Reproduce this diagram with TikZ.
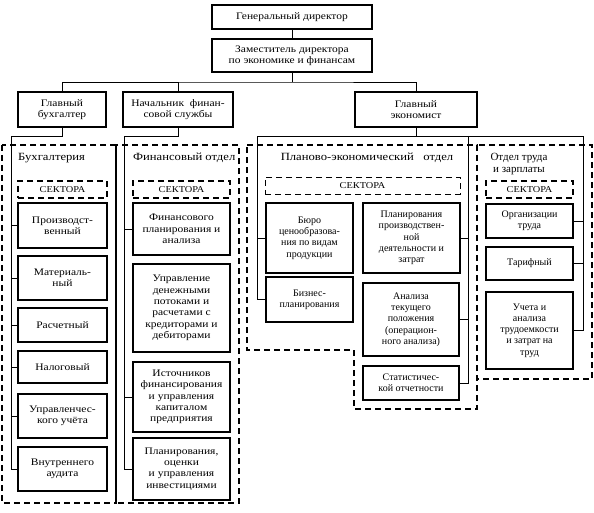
\documentclass[tikz,border=0pt]{standalone}
\usepackage{fontspec}
\setmainfont{Liberation Serif}
\newfontfamily\wideserif{Liberation Serif}[FakeStretch=1.15]
\begin{document}
\begin{tikzpicture}[x=1pt,y=-1pt,
    box/.style={draw,line width=1.5pt,align=center,inner sep=1pt,font=\fontsize{10}{11.3}\selectfont},
    wide/.style={font=\wideserif\fontsize{10}{11.3}\selectfont},
    dept/.style={draw,line width=1.5pt,dash pattern=on 6pt off 4pt},
    sect/.style={dept,align=center,inner sep=0pt,font=\wideserif\fontsize{9}{10}\selectfont},
    ttl/.style={align=center,inner sep=0pt,font=\fontsize{11}{12.5}\selectfont}]
  \useasboundingbox (0,0) rectangle (594,513);
  \node[box,wide,minimum width=160,minimum height=24] (gen) at (292,17) {Генеральный директор};
  \node[box,wide,minimum width=160,minimum height=33] (zam) at (292,55.5) {Заместитель директора\\по экономике и финансам};
  \node[box,wide,minimum width=88,minimum height=35] (bukh) at (62,109.5) {Главный\\бухгалтер};
  \node[box,wide,minimum width=110,minimum height=35] (nach) at (178,109.5) {Начальник~~финан-\\совой службы};
  \node[box,wide,minimum width=122,minimum height=35] (econ) at (416,109.5) {Главный\\экономист};
  \draw[dept] (2,145) rectangle (116,503);
  \draw[dept] (116,145) rectangle (239,503);
  \draw[dept] (247,145) -- (477,145) -- (477,409) -- (354,409) -- (354,350) -- (247,350) -- cycle;
  \draw[dept] (477,145) rectangle (592,379);
  \node[ttl,font=\wideserif\fontsize{11}{12.5}\selectfont,anchor=west] (bkTitle) at (18,158) {Бухгалтерия};
  \node[ttl,font=\wideserif\fontsize{11}{12.5}\selectfont,anchor=west] (fnTitle) at (133,158) {Финансовый отдел};
  \node[ttl,font=\wideserif\fontsize{11}{12.5}\selectfont] (peTitle) at (367,158) {Планово-экономический~~~отдел};
  \node[ttl] (otTitle) at (519,164) {Отдел труда\\и зарплаты};
  \node[sect,minimum width=89,minimum height=17] (bkSect) at (62.5,189.5) {СЕКТОРА};
  \node[sect,minimum width=97,minimum height=17] (fnSect) at (181.5,189.5) {СЕКТОРА};
  \node[sect,line width=0.8pt,minimum width=195,minimum height=17] (peSect) at (362.5,185.5) {СЕКТОРА};
  \node[sect,minimum width=87,minimum height=17] (otSect) at (529.5,189.5) {СЕКТОРА};
  \node[box,wide,minimum width=89,minimum height=45] (prod) at (62.5,225.5) {Производст-\\венный};
  \node[box,wide,minimum width=89,minimum height=44] (mat) at (62.5,278) {Материаль-\\ный};
  \node[box,wide,minimum width=89,minimum height=34] (rasch) at (62.5,325) {Расчетный};
  \node[box,wide,minimum width=89,minimum height=32] (nalog) at (62.5,367) {Налоговый};
  \node[box,wide,minimum width=89,minimum height=44] (upr) at (62.5,416) {Управленчес-\\кого учёта};
  \node[box,wide,minimum width=89,minimum height=44] (audit) at (62.5,469) {Внутреннего\\аудита};
  \node[box,wide,minimum width=97,minimum height=52] (finplan) at (181.5,229) {Финансового\\планирования и\\анализа};
  \node[box,wide,minimum width=97,minimum height=88] (dengi) at (181.5,308) {Управление\\денежными\\потоками и\\расчетами с\\кредиторами и\\дебиторами};
  \node[box,wide,minimum width=97,minimum height=70] (istoch) at (181.5,397) {Источников\\финансирования\\и управления\\капиталом\\предприятия};
  \node[box,wide,minimum width=97,minimum height=62] (invest) at (181.5,469) {Планирования,\\оценки\\и управления\\инвестициями};
  \node[box,minimum width=87,minimum height=70] (byuro) at (309.5,238) {Бюро\\ценообразова-\\ния по видам\\продукции};
  \node[box,minimum width=97,minimum height=70] (plpr) at (411.5,238) {Планирования\\производствен-\\ной\\деятельности и\\затрат};
  \node[box,minimum width=87,minimum height=45] (biz) at (309.5,299.5) {Бизнес-\\планирования};
  \node[box,minimum width=96,minimum height=73] (analiz) at (411,319.5) {Анализа\\текущего\\положения\\(операцион-\\ного анализа)};
  \node[box,minimum width=96,minimum height=34] (stat) at (411,383) {Статистичес-\\кой отчетности};
  \node[box,minimum width=87,minimum height=34] (org) at (529.5,221) {Организации\\труда};
  \node[box,minimum width=87,minimum height=33] (tarif) at (529.5,263.5) {Тарифный};
  \node[box,minimum width=87,minimum height=77] (uchet) at (529.5,330.5) {Учета и\\анализа\\трудоемкости\\и затрат на\\труд};
  \begin{scope}[line width=0.8pt]
    \coordinate (bus) at (292,82);
    \coordinate (bkTop) at (11,136);
    \coordinate (fnTop) at (124,136);
    \coordinate (peL) at (257,136);
    \coordinate (peR) at (468,136);
    \coordinate (otR) at (583,136);
    \draw (gen.south) -- (zam.north);
    \draw (zam.south) -- (bus);
    \draw (bukh.north) |- (bus) -| (econ.north);
    \draw (nach.north) -- (nach.north |- bus);
    \draw (bukh.south) |- (bkTop) |- (audit.west);
    \foreach \s in {prod,mat,rasch,nalog,upr}
      \draw (bkTop |- \s.west) -- (\s.west);
    \draw (nach.south) |- (fnTop) |- (invest.west);
    \foreach \s in {finplan,istoch}
      \draw (fnTop |- \s.west) -- (\s.west);
    \draw (econ.south) -- (econ.south |- peL);
    \draw (biz.west) -| (peL) -- (otR) |- (uchet.east);
    \draw (byuro.west) -- (peL |- byuro.west);
    \draw (peR) |- (stat.east);
    \foreach \s in {plpr,analiz}
      \draw (\s.east) -- (peR |- \s.east);
    \foreach \s in {org,tarif}
      \draw (\s.east) -- (otR |- \s.east);
  \end{scope}
\end{tikzpicture}
\end{document}
